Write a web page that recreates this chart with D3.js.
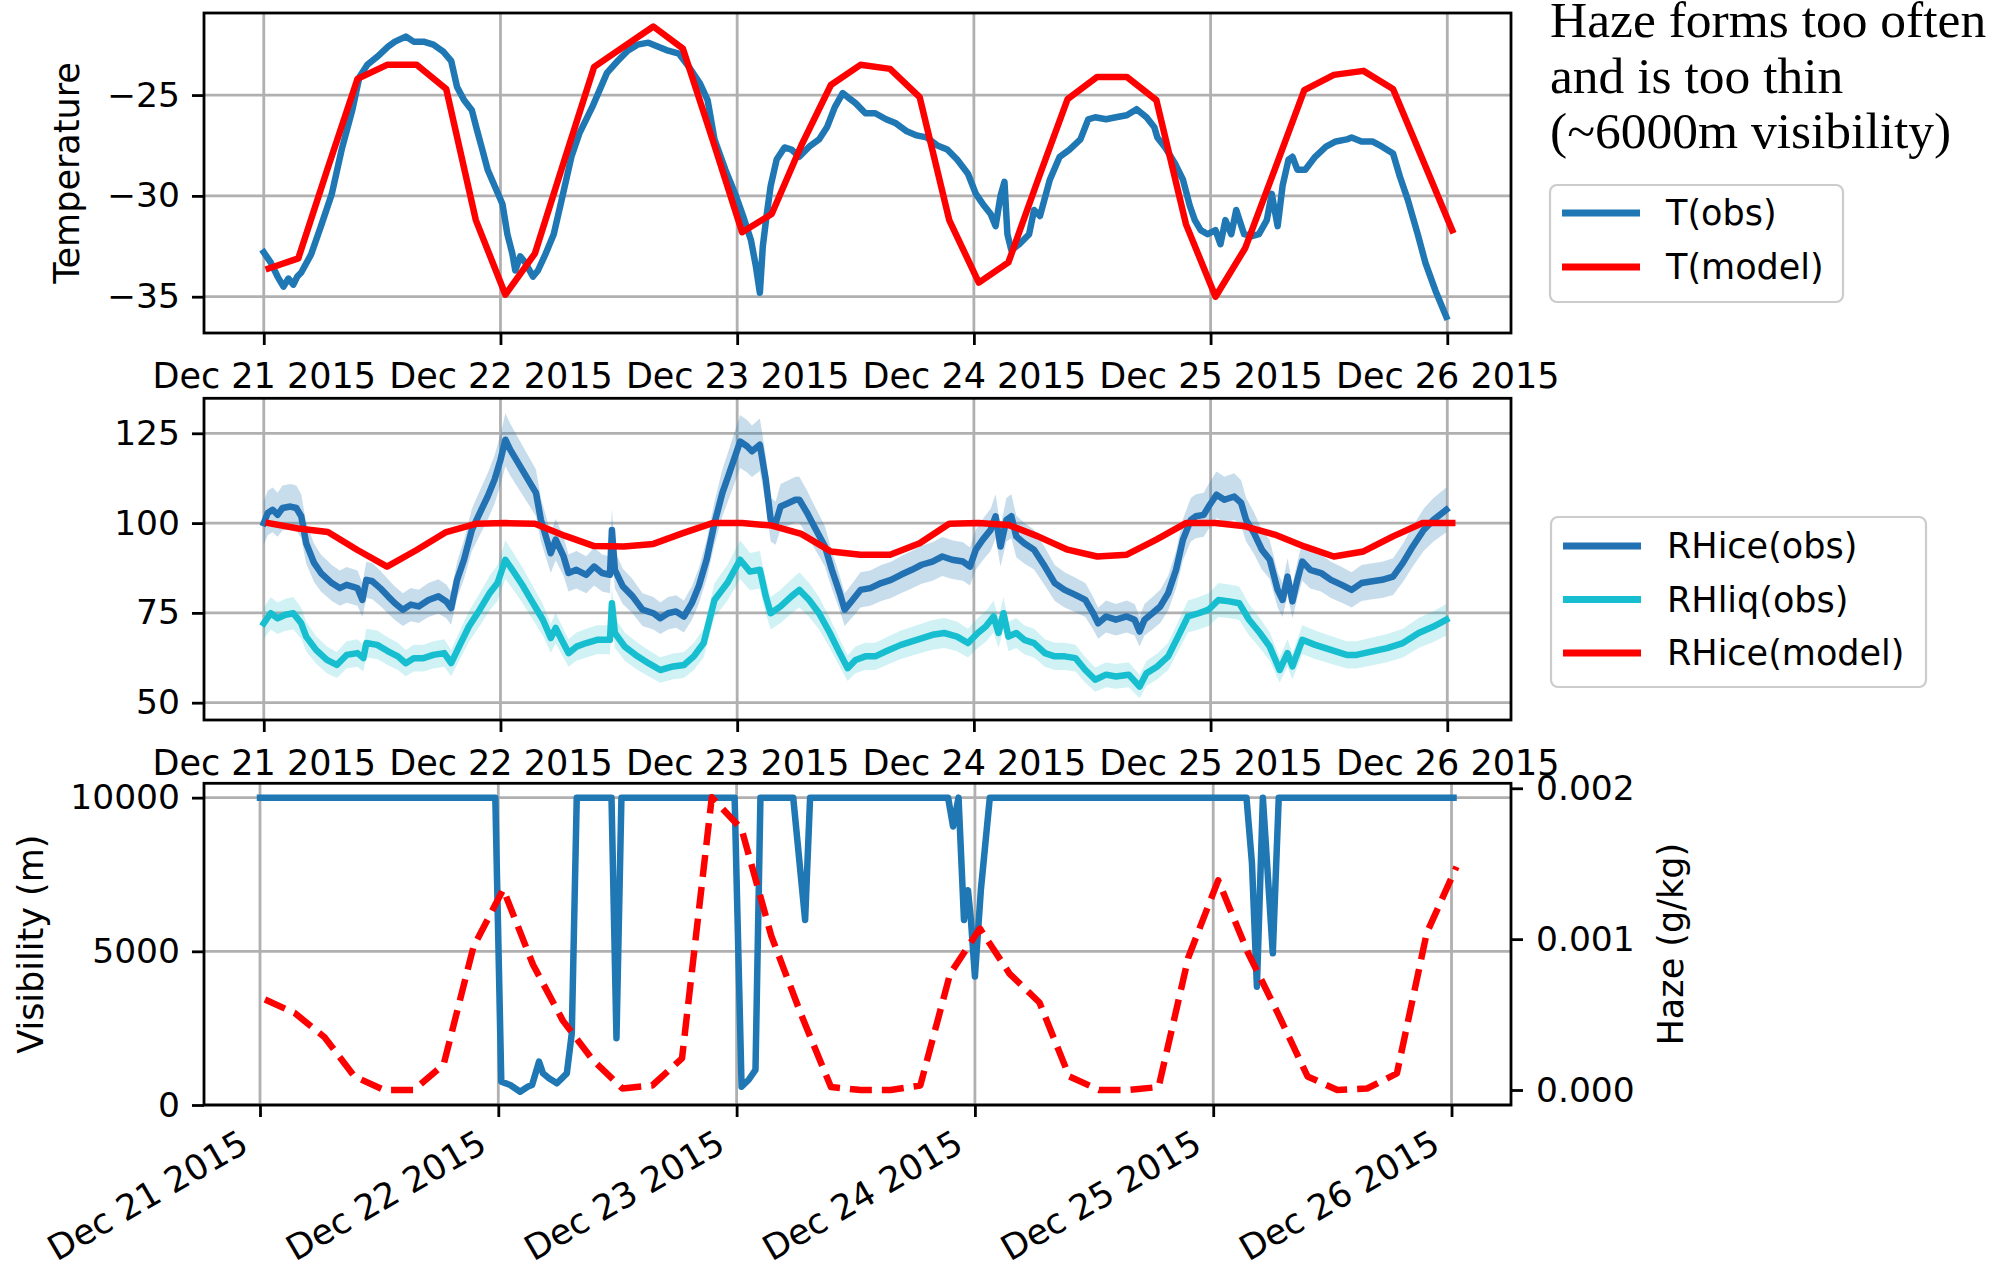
<!DOCTYPE html>
<html>
<head>
<meta charset="utf-8">
<script src="https://cdn.jsdelivr.net/npm/d3@7"></script>
<style>
  body { margin: 0; background: #fff; }
  svg text { font-family: "DejaVu Sans", sans-serif; }
  svg text.note { font-family: "Liberation Serif", serif; }
</style>
</head>
<body>
<div id="chart"></div>
<script>
// ---- data: hours after 2015-12-21 00:00 UTC ----
var dayTicks = [0, 24, 48, 72, 96, 120];
var tempTicks = [-35, -30, -25];
var rhTicks = [50, 75, 100, 125];
var visTicks = [0, 5000, 10000];
var hazeTicks = [0, 0.001, 0.002];

// model output, every 3 h
var modelHours = [0.5, 3.5, 6.5, 9.5, 12.5, 15.5, 18.5, 21.5, 24.5, 27.5, 30.5, 33.5, 36.5, 39.5,
  42.5, 45.5, 48.5, 51.5, 54.5, 57.5, 60.5, 63.5, 66.5, 69.5, 72.5, 75.5, 78.5, 81.5, 84.5, 87.5,
  90.5, 93.5, 96.5, 99.5, 102.5, 105.5, 108.5, 111.5, 114.5, 117.5, 120.5];
var tModel = [-33.6, -33.1, -28.6, -24.2, -23.5, -23.5, -24.7, -31.2, -34.9, -32.85, -28.2, -23.6,
  -22.6, -21.6, -22.7, -27.2, -31.8, -30.9, -27.5, -24.5, -23.5, -23.7, -25.1, -31.2, -34.3, -33.3,
  -29.2, -25.2, -24.1, -24.1, -25.25, -31.4, -35.0, -32.6, -28.7, -24.75, -24.0, -23.8, -24.7, -28.2, -31.7];
var rhIceModel = [100, 98.5, 97.5, 92.5, 87.9, 92.5, 97.5, 99.8, 100, 99.8, 96.5, 93.6, 93.5, 94.2,
  97.2, 100, 100, 99.3, 97.0, 92.1, 91.2, 91.2, 94.4, 99.8, 100, 99.5, 96.3, 92.6, 90.7, 91.2, 95.4,
  100, 100, 99.1, 96.8, 93.5, 90.7, 92.1, 96.3, 100, 100];
var hazeModel = [0.00060, 0.00051, 0.00035, 0.00009, 0, 0, 0.00017, 0.00095, 0.00133, 0.00083,
  0.00046, 0.00020, 0.00001, 0.00003, 0.00021, 0.00194, 0.00173, 0.00102, 0.00050, 0.00002, 0, 0,
  0.00003, 0.00077, 0.00107, 0.00077, 0.00058, 0.00009, 0, 0, 0.00002, 0.00088, 0.00139, 0.00091,
  0.00051, 0.00009, 0, 0.00001, 0.00011, 0.00104, 0.00148];

// observations [hour, value]
var tObs = [[0,-32.8],[0.7,-33.3],[1.4,-34.0],[2,-34.5],[2.5,-34.1],[3,-34.4],[3.4,-34.0],[3.8,-33.8],
  [4.8,-32.9],[5.8,-31.5],[6.9,-29.9],[7.9,-27.7],[9,-25.7],[9.7,-24.1],[10.5,-23.5],[11.5,-23.1],
  [12.6,-22.6],[13.3,-22.35],[14.4,-22.1],[15.2,-22.35],[16.2,-22.35],[17.2,-22.5],[18.2,-22.85],
  [19,-23.3],[19.6,-24.6],[20.3,-25.25],[21.1,-25.75],[21.6,-26.7],[22.1,-27.6],[22.7,-28.7],
  [23.4,-29.5],[24.2,-30.4],[24.7,-31.9],[25.2,-32.85],[25.5,-33.7],[26,-33.0],[26.5,-33.3],
  [27.3,-34.0],[27.8,-33.7],[28.6,-32.85],[29.4,-31.9],[30.2,-30.2],[31.2,-28.05],[32,-26.9],
  [33.3,-25.6],[34.8,-23.9],[35.9,-23.3],[36.9,-22.8],[37.9,-22.5],[39,-22.4],[40,-22.6],[41,-22.8],
  [42.1,-22.95],[43.1,-23.6],[44.2,-24.4],[45,-25.25],[45.7,-27.2],[46.8,-28.7],[47.8,-29.9],
  [48.6,-31.0],[49.4,-32.2],[49.9,-33.5],[50.3,-34.8],[50.6,-32.5],[51,-30.9],[51.4,-29.5],[52,-28.2],
  [52.8,-27.6],[53.5,-27.7],[54.3,-28.06],[55.3,-27.56],[56.3,-27.2],[57.1,-26.6],[57.9,-25.6],
  [58.7,-24.9],[59.2,-25.1],[60,-25.4],[61,-25.9],[62,-25.9],[63.1,-26.2],[64.1,-26.4],[65.2,-26.8],
  [66.2,-27.0],[67.2,-27.1],[68.3,-27.5],[69.3,-27.7],[70.3,-28.2],[71.4,-28.9],[72.2,-29.9],
  [72.9,-30.4],[73.7,-30.9],[74.2,-31.5],[74.7,-30.0],[75.1,-29.3],[75.4,-31.9],[75.8,-32.7],
  [76.6,-32.4],[77.6,-31.9],[78.1,-30.7],[78.7,-31.0],[79.7,-29.2],[80.7,-28.06],[81.7,-27.7],
  [82.8,-27.2],[83.6,-26.2],[84.3,-26.1],[85.4,-26.2],[86.4,-26.1],[87.5,-26.0],[88.5,-25.7],
  [89.5,-26.1],[90.3,-26.6],[90.6,-27.1],[91.4,-27.6],[92.4,-28.4],[93.2,-29.2],[93.9,-30.5],
  [94.4,-31.2],[95,-31.7],[95.7,-31.9],[96.5,-31.7],[97,-32.4],[97.5,-31.2],[98.1,-31.9],[98.6,-30.7],
  [99.4,-31.9],[100.2,-32.0],[100.9,-31.9],[101.7,-31.2],[102.2,-29.9],[102.8,-31.5],[103.3,-29.5],
  [103.9,-28.2],[104.3,-28.06],[104.8,-28.7],[105.6,-28.7],[106.6,-28.06],[107.7,-27.56],
  [108.7,-27.3],[109.8,-27.2],[110.3,-27.1],[111.3,-27.3],[112.4,-27.3],[113.4,-27.56],[114.5,-27.9],
  [115.2,-29.05],[116,-30.2],[117,-31.9],[117.8,-33.35],[118.8,-34.7],[119.9,-36.0]];

var rhIceObs = [[0,100],[0.4,102.8],[0.9,103.7],[1.4,102.3],[1.9,104.2],[2.7,104.6],[3.3,104.2],
  [3.8,101.9],[4.3,94.4],[5.1,88.9],[5.8,86.1],[6.9,83.3],[7.7,81.9],[8.4,82.8],[9.5,81.9],[10,78.6],
  [10.4,84.2],[11,83.8],[11.8,81.9],[12.6,79.6],[13.3,77.7],[14.1,75.9],[14.9,77.3],[15.7,76.8],
  [16.7,78.6],[17.7,79.6],[18.5,78.2],[19,76.3],[19.6,84.2],[20.3,89.8],[21.1,98.1],[21.9,102.8],
  [22.7,107.4],[23.4,112.1],[24,117.6],[24.5,123.2],[25,120.4],[26,115.8],[26.8,112.1],[27.6,108.4],
  [28.1,100.9],[28.6,96.3],[29.1,91.6],[29.6,95.4],[30.4,90.7],[30.9,86.1],[31.7,87.0],[32.7,85.6],
  [33.5,87.9],[34.3,86.1],[35.1,85.6],[35.3,98.1],[35.6,87.0],[36.4,82.4],[37.4,79.6],[38.4,75.9],
  [39.5,74.9],[40.2,73.5],[41,74.9],[41.8,75.4],[42.6,74.0],[43.4,77.7],[44.1,82.4],[44.9,89.8],
  [45.7,100],[46.5,108.4],[47.2,113.9],[48.3,122.7],[49,121.4],[49.5,120],[50.3,121.8],[50.9,112.1],
  [51.4,100.9],[51.9,100],[52.4,104.6],[53.2,105.6],[53.9,106.5],[54.3,106.5],[55.1,102.8],
  [55.8,99.1],[56.9,93.5],[57.6,87.0],[58.4,80.5],[58.9,75.9],[59.7,78.6],[60.5,81.4],[61.5,81.9],
  [62.6,83.3],[63.6,84.2],[64.6,85.6],[65.7,87.0],[66.7,88.4],[67.8,89.3],[68.8,90.7],[69.8,89.8],
  [70.9,89.3],[71.6,87.9],[72.2,92.6],[72.9,95.4],[73.7,98.1],[74.2,101.9],[74.7,93.5],[75.3,100.9],
  [75.8,101.9],[76.3,96.3],[77.1,94.4],[78.1,92.6],[79.2,87.9],[80.2,83.3],[81.2,81.4],[82.3,80.0],
  [83.3,78.6],[84.1,74.9],[84.6,72.1],[85.4,74.0],[86.4,73.1],[87.5,74.0],[88.3,73.1],[88.8,69.8],
  [89.3,73.1],[90.1,74.9],[90.9,76.8],[91.7,80.5],[92.5,87.0],[93.2,95.4],[94,100.9],[94.5,101.9],
  [95.3,102.3],[95.8,104.6],[96.6,107.9],[97.4,106.5],[98.4,107.4],[99.1,105.6],[99.6,100.9],
  [100.4,97.2],[101.2,92.6],[102,89.8],[102.8,81.4],[103.3,78.6],[103.8,85.1],[104.3,78.2],
  [104.8,84.2],[105.3,89.3],[106.1,87.0],[107.2,86.1],[108.2,84.2],[109.3,82.8],[110.3,81.4],
  [111.3,83.3],[112.4,83.8],[113.4,84.2],[114.5,85.1],[115.5,88.9],[116.5,93.5],[117.6,98.1],
  [118.6,100.9],[119.9,103.7]];

var rhLiqObs = [[0,72.1],[0.7,74.9],[1.4,73.5],[2.2,74.5],[3,74.9],[3.8,72.1],[4.3,68.4],[5.3,64.7],
  [6.4,61.9],[7.4,60.5],[8.4,63.3],[9.5,63.8],[10.1,62.4],[10.4,66.6],[11.5,66.1],[12.6,64.3],
  [13.6,62.9],[14.4,61.0],[15.2,62.4],[16.2,62.4],[17.2,63.3],[18.3,63.8],[19,61.0],[19.8,65.6],
  [20.8,71.2],[21.9,75.9],[22.9,80.5],[23.7,83.3],[24.5,89.8],[25.2,87.0],[26.3,82.4],[27.3,77.7],
  [28.3,73.1],[29.1,68.0],[29.6,70.8],[30.2,67.5],[30.9,63.8],[31.7,65.6],[32.7,66.6],[33.8,67.5],
  [35.1,67.5],[35.3,77.7],[35.6,69.4],[36.6,65.6],[37.9,62.9],[39,61.0],[40.2,59.1],[41.5,60.1],
  [42.6,60.5],[43.6,62.9],[44.6,66.6],[45.7,78.6],[47,83.3],[48.3,89.8],[49.3,86.5],[50.3,87.0],
  [50.9,79.6],[51.4,74.9],[52.4,76.8],[53.5,79.6],[54.3,81.4],[55.3,78.6],[56.3,74.9],[57.4,69.4],
  [58.4,63.8],[59.2,59.6],[60,61.9],[61,62.9],[62,62.9],[63.1,64.3],[64.6,66.1],[66.2,67.5],
  [67.8,68.9],[69,69.4],[70.3,68.4],[71.4,66.6],[72.4,69.4],[73.2,71.2],[74,74.0],[74.5,69.4],
  [75,74.9],[75.5,68.4],[76.3,69.4],[77.1,67.5],[78.1,66.6],[79.2,63.8],[80.2,62.9],[81.2,62.9],
  [82.3,62.4],[83.3,59.1],[84.3,56.4],[85.4,57.8],[86.4,57.3],[87.7,57.8],[88.8,54.5],[89.5,58.2],
  [90.6,60.1],[91.7,62.9],[92.7,68.4],[93.7,74.0],[94.8,74.9],[95.8,75.9],[96.8,78.6],[97.9,78.2],
  [98.9,77.7],[99.9,73.1],[101,69.4],[102,65.6],[103,59.1],[103.8,63.8],[104.3,60.1],[105.3,67.5],
  [106.6,66.1],[108.2,64.7],[109.8,63.3],[110.8,63.3],[112.4,64.3],[113.9,65.2],[115.5,66.6],
  [117.1,69.4],[118.6,71.2],[119.9,73.1]];

var visObs = [[0,10000],[23.7,10000],[24.3,760],[25.2,650],[26.2,430],[27.0,600],[27.4,650],
  [28.1,1410],[28.5,1030],[29.1,870],[29.9,705],[30.9,1030],[31.4,2330],[31.9,10000],[35.4,10000],
  [35.9,2170],[36.4,10000],[47.8,10000],[48.5,595],[49.2,813],[49.9,1140],[50.4,10000],[53.7,10000],
  [54.9,6020],[55.4,10000],[69.3,10000],[69.8,9060],[70.35,10000],[70.9,6020],[71.3,6990],
  [71.6,6020],[72.0,4180],[72.6,7000],[73.5,10000],[99.35,10000],[99.9,7875],[100.4,3850],
  [101.0,10000],[102.0,4936],[102.6,10000],[120.2,10000]];

var rhSpread = 0.06; // shaded band around observed RH, as fraction of value

var titleLines = ["Haze forms too often", "and is too thin", "(~6000m visibility)"];

// ---- layout ----
var W = 2003, H = 1271;
var left = 204, right = 1511;
var p1 = {top: 13, bottom: 333},
    p2 = {top: 398.3, bottom: 720},
    p3 = {top: 783.3, bottom: 1105};

var blue = "#1f77b4", cyan = "#17becf", red = "#ff0000";
var lw = 6.5;

var t0 = Date.UTC(2015, 11, 21);
function hr(h) { return new Date(t0 + h * 3600e3); }
var fmtDay = d3.utcFormat("%b %d %Y");

var svg = d3.select("#chart").append("svg")
  .attr("width", W).attr("height", H)
  .style("background", "#fff");

/* scales */
var xTop = d3.scaleUtc().domain([hr(-6.06), hr(126.46)]).range([left, right]);
var xBot = d3.scaleUtc().domain([hr(-5.64), hr(125.99)]).range([left, right]);
var yT = d3.scaleLinear().domain([-36.8, -20.93]).range([p1.bottom, p1.top]);
var yRH = d3.scaleLinear().domain([45.18, 134.74]).range([p2.bottom, p2.top]);
var yVis = d3.scaleLinear().domain([0, 10467]).range([p3.bottom, p3.top]);
var yHaze = d3.scaleLinear().domain([-0.0000994, 0.002033]).range([p3.bottom, p3.top]);

function grid(p, x, y, yTicks) {
  var g = svg.append("g").attr("stroke", "#b0b0b0").attr("stroke-width", 2.8);
  g.selectAll(".gx").data(dayTicks).enter().append("line")
    .attr("x1", function(d) { return x(hr(d)); })
    .attr("x2", function(d) { return x(hr(d)); })
    .attr("y1", p.top).attr("y2", p.bottom);
  g.selectAll(".gy").data(yTicks).enter().append("line")
    .attr("x1", left).attr("x2", right)
    .attr("y1", function(d) { return y(d); })
    .attr("y2", function(d) { return y(d); });
}

function frame(p) {
  svg.append("rect")
    .attr("x", left).attr("y", p.top)
    .attr("width", right - left).attr("height", p.bottom - p.top)
    .attr("fill", "none").attr("stroke", "#000").attr("stroke-width", 2.8);
}

function styleAxis(g, size) {
  g.attr("font-size", size).attr("font-family", "DejaVu Sans");
  g.select(".domain").remove();
  g.selectAll("line").attr("stroke", "#000").attr("stroke-width", 2.8);
  g.selectAll("text").attr("fill", "#000");
}

function lineOf(x, y) {
  return d3.line()
    .x(function(d) { return x(hr(d[0])); })
    .y(function(d) { return y(d[1]); });
}

function path(data, gen, color, dash) {
  svg.append("path")
    .datum(data)
    .attr("d", gen)
    .attr("fill", "none")
    .attr("stroke", color)
    .attr("stroke-width", lw)
    .attr("stroke-linejoin", "round")
    .attr("stroke-linecap", dash ? "butt" : "square")
    .attr("stroke-dasharray", dash || null);
}

function band(data, x, y, color, op) {
  var area = d3.area()
    .x(function(d) { return x(hr(d[0])); })
    .y0(function(d) { return y(d[1] * (1 - rhSpread)); })
    .y1(function(d) { return y(d[1] * (1 + rhSpread)); });
  svg.append("path").datum(data).attr("d", area)
    .attr("fill", color).attr("fill-opacity", op).attr("stroke", "none");
}

function zipModel(vals) {
  return modelHours.map(function(h, i) { return [h, vals[i]]; });
}

function legend(box, items) {
  var g = svg.append("g");
  g.append("rect")
    .attr("x", box.x).attr("y", box.y).attr("width", box.w).attr("height", box.h)
    .attr("rx", 7).attr("fill", "#fff").attr("fill-opacity", 0.8)
    .attr("stroke", "#cccccc").attr("stroke-width", 2.2);
  items.forEach(function(it, i) {
    var yy = box.first + i * box.step;
    g.append("line")
      .attr("x1", box.x + 12).attr("x2", box.x + 90)
      .attr("y1", yy).attr("y2", yy)
      .attr("stroke", it.color).attr("stroke-width", 7);
    g.append("text")
      .attr("x", box.x + 116).attr("y", yy + 12)
      .attr("font-size", 35).attr("fill", "#000")
      .text(it.label);
  });
}

// ---- panel 1: temperature ----
grid(p1, xTop, yT, tempTicks);
path(tObs, lineOf(xTop, yT), blue);
path(zipModel(tModel), lineOf(xTop, yT), red);
frame(p1);

svg.append("g").attr("transform", "translate(0," + p1.bottom + ")")
  .call(d3.axisBottom(xTop).tickValues(dayTicks.map(hr)).tickFormat(fmtDay).tickSize(12).tickPadding(18))
  .call(styleAxis, 35);
svg.append("g").attr("transform", "translate(" + left + ",0)")
  .call(d3.axisLeft(yT).tickValues(tempTicks).tickSize(12).tickPadding(12))
  .call(styleAxis, 34.5);
svg.append("text")
  .attr("transform", "translate(79," + (p1.top + p1.bottom) / 2 + ") rotate(-90)")
  .attr("text-anchor", "middle").attr("font-size", 35)
  .text("Temperature");

// ---- panel 2: relative humidity ----
grid(p2, xTop, yRH, rhTicks);
band(rhIceObs, xTop, yRH, blue, 0.25);
band(rhLiqObs, xTop, yRH, cyan, 0.2);
path(rhIceObs, lineOf(xTop, yRH), "#2271b3");
path(rhLiqObs, lineOf(xTop, yRH), cyan);
path(zipModel(rhIceModel), lineOf(xTop, yRH), red);
frame(p2);

svg.append("g").attr("transform", "translate(0," + p2.bottom + ")")
  .call(d3.axisBottom(xTop).tickValues(dayTicks.map(hr)).tickFormat(fmtDay).tickSize(12).tickPadding(18))
  .call(styleAxis, 35);
svg.append("g").attr("transform", "translate(" + left + ",0)")
  .call(d3.axisLeft(yRH).tickValues(rhTicks).tickSize(12).tickPadding(12))
  .call(styleAxis, 34.5);

// ---- panel 3: visibility + haze ----
grid(p3, xBot, yVis, visTicks);
path(visObs, lineOf(xBot, yVis), blue);
path(zipModel(hazeModel), lineOf(xBot, yHaze), red, "22,10");
frame(p3);

var xb = svg.append("g").attr("transform", "translate(0," + p3.bottom + ")")
  .call(d3.axisBottom(xBot).tickValues(dayTicks.map(hr)).tickFormat(fmtDay).tickSize(12))
  .call(styleAxis, 35);
xb.selectAll("text")
  .attr("x", 0).attr("y", 0).attr("dy", 0)
  .attr("text-anchor", "end")
  .attr("transform", "translate(-10,45) rotate(-30)");

svg.append("g").attr("transform", "translate(" + left + ",0)")
  .call(d3.axisLeft(yVis).tickValues(visTicks).tickFormat(d3.format("d")).tickSize(12).tickPadding(12))
  .call(styleAxis, 34.5);
svg.append("g").attr("transform", "translate(" + right + ",0)")
  .call(d3.axisRight(yHaze).tickValues(hazeTicks).tickFormat(d3.format(".3f")).tickSize(12).tickPadding(13))
  .call(styleAxis, 34.5);

svg.append("text")
  .attr("transform", "translate(43," + (p3.top + p3.bottom) / 2 + ") rotate(-90)")
  .attr("text-anchor", "middle").attr("font-size", 35)
  .text("Visibility (m)");
svg.append("text")
  .attr("transform", "translate(1683," + (p3.top + p3.bottom) / 2 + ") rotate(-90)")
  .attr("text-anchor", "middle").attr("font-size", 35)
  .text("Haze (g/kg)");

// ---- legends and note ----
legend({x: 1550, y: 185, w: 293, h: 117, first: 213, step: 54},
  [{label: "T(obs)", color: blue}, {label: "T(model)", color: red}]);
legend({x: 1551, y: 517, w: 375, h: 170, first: 546, step: 53.5},
  [{label: "RHice(obs)", color: "#2271b3"}, {label: "RHliq(obs)", color: cyan},
   {label: "RHice(model)", color: red}]);

// note in the top right corner (serif, as in the slide)
svg.append("g").selectAll("text")
  .data(titleLines).enter().append("text")
  .attr("class", "note")
  .attr("x", 1550)
  .attr("y", function(d, i) { return 37 + i * 55.5; })
  .attr("font-size", 51.5)
  .attr("fill", "#000")
  .text(function(d) { return d; });
</script>
</body>
</html>
